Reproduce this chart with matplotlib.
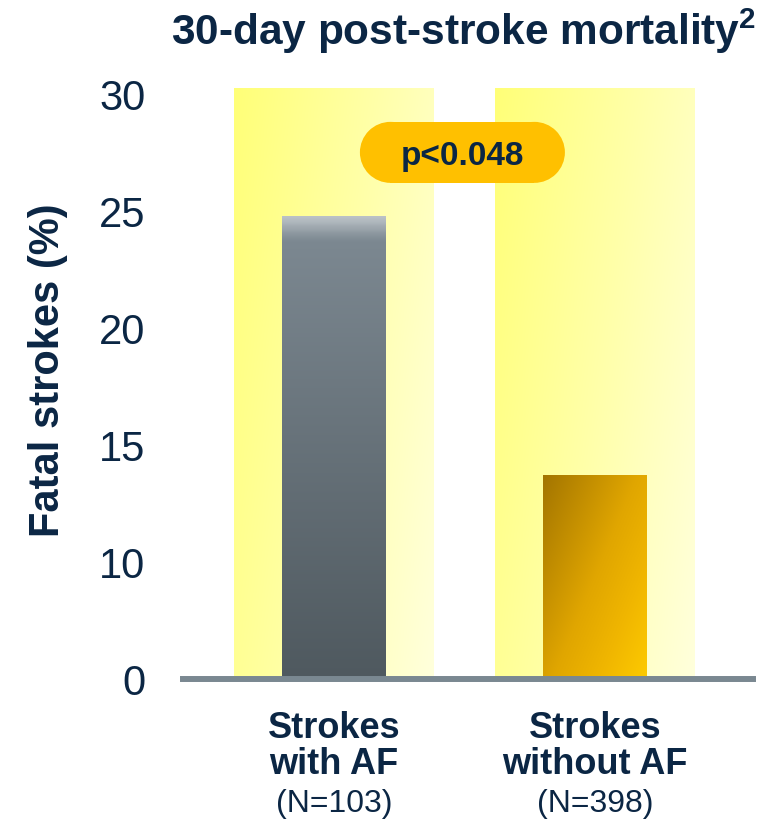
import numpy as np
import matplotlib.pyplot as plt
from matplotlib.colors import LinearSegmentedColormap
from matplotlib.patches import Rectangle, Ellipse

plt.rcParams['font.family'] = ['Liberation Sans', 'DejaVu Sans']
plt.rcParams['mathtext.fontset'] = 'custom'
plt.rcParams['mathtext.bf'] = 'Liberation Sans:bold'
plt.rcParams['mathtext.rm'] = 'Liberation Sans'

# data
cat_line1 = ['Strokes', 'Strokes']
cat_line2 = ['with AF', 'without AF']
cat_n = ['(N=103)', '(N=398)']
fatal_pct = [24.8, 13.7]
ytick_pos = [5, 10, 15, 20, 25, 30]
ytick_labels = ['0', '10', '15', '20', '25', '30']
p_text = 'p<0.048'

navy = '#0b2644'
x = np.arange(len(fatal_pct))
y_lo, y_hi = 5, 30.25


def grad_fill(ax, patch, colors, wx, wy, y_min):
    # paints a gradient image clipped to the bar patch
    x0, y0 = patch.get_x(), max(patch.get_y(), y_min)
    x1, y1 = x0 + patch.get_width(), patch.get_y() + patch.get_height()
    xx, yy = np.meshgrid(np.linspace(0, 1, 200), np.linspace(0, 1, 200))
    t = wx * xx + wy * yy
    t = (t - t.min()) / (t.max() - t.min())
    cmap = LinearSegmentedColormap.from_list('g', colors)
    im = ax.imshow(t, cmap=cmap, extent=[x0, x1, y0, y1], origin='upper',
                   aspect='auto', interpolation='bicubic', zorder=patch.get_zorder())
    im.set_clip_path(patch)
    patch.set_visible(False)


fig = plt.figure(figsize=(7.69, 8.28), dpi=100)
ax = fig.add_axes([183 / 769, 148 / 828, 570 / 769, 591 / 828])
ax.set_xlim(-0.5785, 1.6054)
ax.set_ylim(y_lo, y_hi)

# pale yellow panels behind each bar
bg = ax.bar(x, y_hi - y_lo, bottom=y_lo, width=0.766, zorder=1)
for p in bg:
    grad_fill(ax, p, ['#ffff78', '#ffffa8', '#ffffdc'], 0.7, 0.3, y_lo)

bars = ax.bar(x, fatal_pct, width=0.398, zorder=2)
grad_fill(ax, bars[0], [(0, '#bcc3c8'), (0.05, '#7c8891'), (1, '#4f595f')], 0, 1, y_lo)
grad_fill(ax, bars[1], [(0, '#a37500'), (0.5, '#e0a600'), (0.75, '#f0b600'), (1, '#fdca00')],
          0.55, 0.45, y_lo)

ax.set_xlim(-0.5785, 1.6054)
ax.set_ylim(y_lo, y_hi)

# axes styling
for s in ['top', 'right', 'left']:
    ax.spines[s].set_visible(False)
ax.spines['bottom'].set_color('#7a8891')
ax.spines['bottom'].set_linewidth(4.3)
ax.spines['bottom'].set_zorder(3)
ax.set_xticks([])
ax.set_yticks(ytick_pos, ytick_labels)
ax.tick_params(axis='y', length=0, pad=27, labelsize=30, labelcolor=navy)

# p-value pill (stadium shape: rectangle + two round ends)
fw, fh = fig.get_size_inches() * fig.dpi
pos = ax.get_position()
ppx = pos.width * fw / (ax.get_xlim()[1] - ax.get_xlim()[0])
ppy = pos.height * fh / (y_hi - y_lo)
pill_cx, pill_cy = 0.492, 27.5
pw, ph = 205 / ppx, 61 / ppy
rx = 30.5 / ppx
pill_col = '#ffc000'
ax.add_patch(Rectangle((pill_cx - pw / 2 + rx, pill_cy - ph / 2), pw - 2 * rx, ph,
                       fc=pill_col, ec='none', zorder=4))
for cx in [pill_cx - pw / 2 + rx, pill_cx + pw / 2 - rx]:
    ax.add_patch(Ellipse((cx, pill_cy), 2 * rx, ph, fc=pill_col, ec='none', zorder=4))
ax.text(pill_cx, pill_cy, p_text, ha='center', va='center_baseline', fontsize=24,
        fontweight='bold', color=navy, zorder=5)

# category labels
tr = ax.get_xaxis_transform()
for i in range(len(x)):
    ax.text(x[i], -0.098, cat_line1[i], transform=tr, ha='center', va='baseline',
            fontsize=26, fontweight='bold', color=navy)
    ax.text(x[i], -0.159, cat_line2[i], transform=tr, ha='center', va='baseline',
            fontsize=26, fontweight='bold', color=navy)
    ax.text(x[i], -0.223, cat_n[i], transform=tr, ha='center', va='baseline',
            fontsize=23, color=navy)

fig.text(48 / 769, 1 - 370 / 828, 'Fatal strokes (%)', rotation=90, ha='center',
         va='center', fontsize=30, fontweight='bold', color=navy)
fig.text(464 / 769, 1 - 45 / 828, r'30-day post-stroke mortality$^\mathbf{2}$',
         ha='center', va='baseline', fontsize=30.5, fontweight='bold', color=navy)

fig.savefig('out.png', dpi=100)
